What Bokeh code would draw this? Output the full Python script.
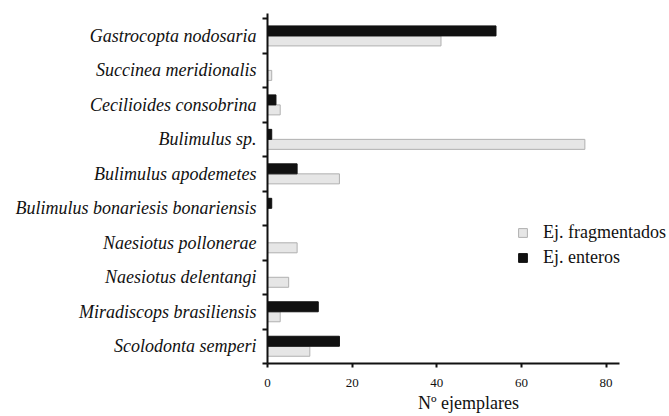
from bokeh.plotting import figure
from bokeh.models import Range1d, FixedTicker, ColumnDataSource, Legend, LegendItem
from bokeh.embed import file_html
from bokeh.resources import INLINE

# Categories from bottom to top
species = ["Scolodonta semperi", "Miradiscops brasiliensis", "Naesiotus delentangi",
           "Naesiotus pollonerae", "Bulimulus bonariesis bonariensis", "Bulimulus apodemetes",
           "Bulimulus sp.", "Cecilioides consobrina", "Succinea meridionalis",
           "Gastrocopta nodosaria"]
enteros = [17, 12, 0, 0, 1, 7, 1, 2, 0, 54]
fragmentados = [10, 3, 5, 7, 0, 17, 75, 3, 1, 41]
x_ticks = [0, 20, 40, 60, 80]

SERIF = "Liberation Serif"

n = len(species)
centers = [i + 0.5 for i in range(n)]
bar_h = 0.29

src_e = ColumnDataSource(dict(y=[c + bar_h / 2 for c in centers], v=enteros))
src_f = ColumnDataSource(dict(y=[c - bar_h / 2 for c in centers], v=fragmentados))

p = figure(width=669, height=416, output_backend="svg", toolbar_location=None,
           x_range=Range1d(0, 95.0), y_range=Range1d(0, n + 0.15),
           min_border_left=267, min_border_right=0, min_border_top=13, min_border_bottom=53)
p.background_fill_color = "white"
p.border_fill_color = "white"
p.outline_line_color = None
p.grid.grid_line_color = None

rf = p.hbar(y="y", right="v", left=0, height=bar_h, source=src_f,
            fill_color="#e6e6e6", line_color="#b0b0b0", line_width=1)
re = p.hbar(y="y", right="v", left=0, height=bar_h, source=src_e,
            fill_color="#111111", line_color="#111111", line_width=1)

# x axis
xa = p.xaxis[0]
xa.ticker = FixedTicker(ticks=x_ticks)
xa.bounds = (0, 83.3)
xa.axis_line_width = 2
xa.axis_line_color = "#111111"
xa.major_tick_line_width = 2
xa.major_tick_line_color = "#111111"
xa.major_tick_out = 4
xa.major_tick_in = 0
xa.minor_tick_line_color = None
xa.major_label_text_font = SERIF
xa.major_label_text_font_size = "13px"
xa.major_label_text_color = "#111111"
xa.major_label_standoff = 11
xa.axis_label = "Nº ejemplares"
xa.axis_label_text_font = SERIF
xa.axis_label_text_font_style = "normal"
xa.axis_label_text_font_size = "18px"
xa.axis_label_text_color = "#111111"
xa.axis_label_standoff = 3

# y axis: labels at centers, ticks at boundaries
ya = p.yaxis[0]
ya.ticker = FixedTicker(ticks=centers, minor_ticks=list(range(n + 1)))
ya.major_label_overrides = {c: s for c, s in zip(centers, species)}
ya.axis_line_width = 2
ya.axis_line_color = "#111111"
ya.major_tick_line_color = None
ya.major_tick_out = 0
ya.major_tick_in = 0
ya.minor_tick_line_width = 2
ya.minor_tick_line_color = "#111111"
ya.minor_tick_out = 5
ya.minor_tick_in = 0
ya.major_label_text_font = SERIF
ya.major_label_text_font_style = "italic"
ya.major_label_text_font_size = "18px"
ya.major_label_text_color = "#111111"
ya.major_label_standoff = 6

legend = Legend(items=[LegendItem(label="Ej. fragmentados", renderers=[rf]),
                       LegendItem(label="Ej. enteros", renderers=[re])],
                location=(250, 95))
legend.label_text_font = SERIF
legend.label_text_font_size = "18px"
legend.label_text_color = "#111111"
legend.glyph_width = 11
legend.glyph_height = 11
legend.spacing = 4
legend.padding = 0
legend.margin = 0
legend.label_standoff = 15
legend.background_fill_alpha = 0
legend.border_line_color = None
p.add_layout(legend, "center")

open("out.html", "w").write(file_html(p, INLINE))
